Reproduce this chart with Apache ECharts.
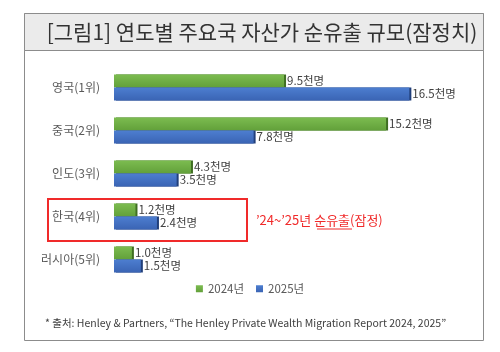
<!DOCTYPE html>
<html>
<head>
<meta charset="utf-8">
<script src="https://cdn.jsdelivr.net/npm/echarts@6/dist/echarts.min.js"></script>
<style>
  html, body { margin: 0; padding: 0; background: #fff; }
  #chart { width: 500px; height: 352px; }
</style>
</head>
<body>
<div id="chart"></div>
<script>
const countries = ['영국(1위)', '중국(2위)', '인도(3위)', '한국(4위)', '러시아(5위)']
const series2024 = [9.5, 15.2, 4.3, 1.2, 1.0]
const series2025 = [16.5, 7.8, 3.5, 2.4, 1.5]
const seriesNames = ['2024년', '2025년']

const FONT = '"Noto Sans CJK KR", "Noto Sans", sans-serif'
const chart = echarts.init(document.getElementById('chart'))

function barColor(top, bottom) {
  return new echarts.graphic.LinearGradient(0, 0, 0, 1, [
    { offset: 0, color: top }, { offset: 1, color: bottom }
  ])
}

const label = {
  show: true, position: 'right', distance: 3,
  fontFamily: FONT, fontSize: 11.5, color: '#404040',
  formatter: p => p.value.toFixed(1) + '천명'
}

chart.setOption({
  animation: false,
  grid: { left: 114, right: 28, top: 66, bottom: 71 },
  xAxis: { type: 'value', min: 0, max: 20, show: false },
  yAxis: {
    type: 'category', data: countries, inverse: true,
    axisLine: { show: false }, axisTick: { show: false },
    axisLabel: { fontFamily: FONT, fontSize: 12, color: '#595959', margin: 14 }
  },
  legend: {
    data: seriesNames, top: 278, left: 'center',
    icon: 'rect', itemWidth: 7, itemHeight: 7, itemGap: 12,
    textStyle: { fontFamily: FONT, fontSize: 11.5, color: '#595959' }
  },
  series: [
    { name: seriesNames[0], type: 'bar', data: series2024, barWidth: 13, barGap: '0%',
      itemStyle: { color: barColor('#7cbc50', '#62a03a'),
        shadowColor: '#3f6e22', shadowOffsetX: 2, shadowBlur: 0 }, label },
    { name: seriesNames[1], type: 'bar', data: series2025, barWidth: 13,
      itemStyle: { color: barColor('#4d7ed0', '#3a64b4'),
        shadowColor: '#213f7a', shadowOffsetX: 2, shadowBlur: 0 }, label }
  ],
  graphic: [
    // outer frame and title bar
    { type: 'rect', shape: { x: 24.5, y: 13.5, width: 459, height: 327 },
      style: { fill: 'none', stroke: '#8c8c8c', lineWidth: 1 }, z: -10 },
    { type: 'rect', shape: { x: 24.5, y: 13.5, width: 459, height: 37 },
      style: { fill: '#ebebeb', stroke: '#8c8c8c', lineWidth: 1 }, z: -9 },
    { type: 'text', x: 262, y: 32,
      style: { text: '[그림1] 연도별 주요국 자산가 순유출 규모(잠정치)', fill: '#333',
        font: '21px ' + FONT, align: 'center', verticalAlign: 'middle' } },
    // highlight box for Korea
    { type: 'rect', shape: { x: 48, y: 199, width: 199, height: 42 },
      style: { fill: 'none', stroke: '#f02a2a', lineWidth: 2 } },
    { type: 'text', x: 256, y: 220,
      style: { text: '’24~’25년 순유출(잠정)', fill: '#f02a2a',
        font: '13px ' + FONT, verticalAlign: 'middle' } },
    { type: 'line', shape: { x1: 317, y1: 229, x2: 352, y2: 229 },
      style: { stroke: '#f02a2a', lineWidth: 1 } },
    // source note
    { type: 'text', x: 45, y: 323,
      style: { text: '* 출처: Henley & Partners, “The Henley Private Wealth Migration Report 2024, 2025”',
        fill: '#404040', font: '10.5px ' + FONT, verticalAlign: 'middle' } }
  ]
})
</script>
</body>
</html>
